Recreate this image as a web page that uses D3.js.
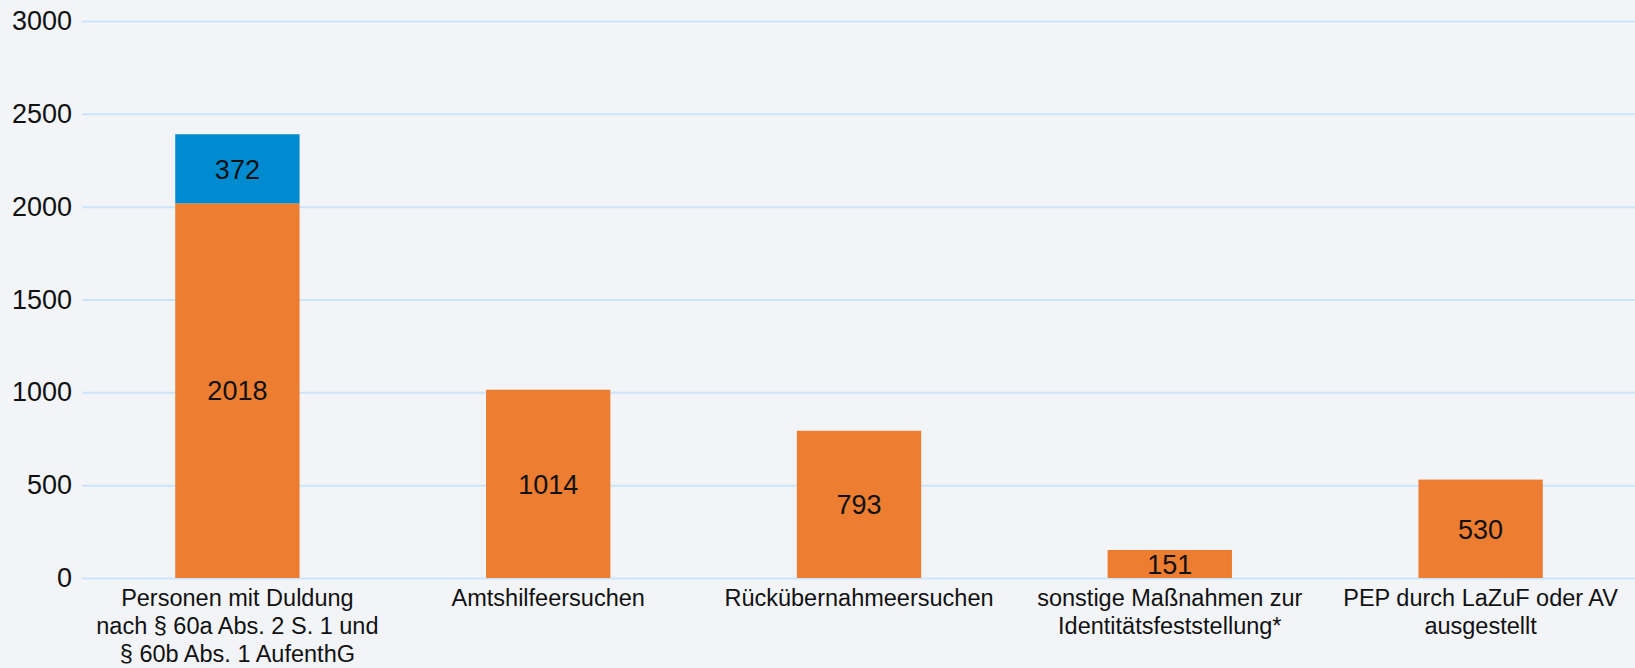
<!DOCTYPE html>
<html>
<head>
<meta charset="utf-8">
<script src="https://cdn.jsdelivr.net/npm/d3@7"></script>
<style>
  body { margin: 0; background: #f2f4f8; }
  svg { display: block; font-family: "Liberation Sans", Arial, sans-serif; }
</style>
</head>
<body>
<div id="chart"></div>
<script>
// data
var categories = [
    "Personen mit Duldung nach § 60a Abs. 2 S. 1 und § 60b Abs. 1 AufenthG",
    "Amtshilfeersuchen",
    "Rückübernahmeersuchen",
    "sonstige Maßnahmen zur Identitätsfeststellung*",
    "PEP durch LaZuF oder AV ausgestellt"
];
var labelLines = [
    ["Personen mit Duldung", "nach § 60a Abs. 2 S. 1 und", "§ 60b Abs. 1 AufenthG"],
    ["Amtshilfeersuchen"],
    ["Rückübernahmeersuchen"],
    ["sonstige Maßnahmen zur", "Identitätsfeststellung*"],
    ["PEP durch LaZuF oder AV", "ausgestellt"]
];
var orangeValues = [2018, 1014, 793, 151, 530];
var blueValues = [372, 0, 0, 0, 0];
var yTicks = [0, 500, 1000, 1500, 2000, 2500, 3000];

// setup
var width = 1635,
    height = 668;

var svg = d3.select("#chart").append("svg")
    .attr("width", width)
    .attr("height", height);

svg.append("rect")
    .attr("width", width)
    .attr("height", height)
    .attr("fill", "#f2f4f8");

var yScale = d3.scaleLinear()
    .domain([0, 3000])
    .range([578, 21]);

var xScale = d3.scaleBand()
    .domain(categories)
    .range([82, 1636])
    .paddingInner(0.6)
    .paddingOuter(0.3);

// grid + y axis
var yAxis = svg.append("g")
    .attr("transform", "translate(82,0)")
    .call(d3.axisLeft(yScale).tickValues(yTicks).tickFormat(d3.format("d"))
        .tickSize(0).tickPadding(10));
yAxis.select(".domain").remove();
yAxis.selectAll(".tick text")
    .attr("font-size", 27)
    .attr("font-family", "Liberation Sans, Arial, sans-serif")
    .attr("fill", "#111");
yAxis.selectAll(".tick line")
    .attr("x2", 1636 - 82)
    .attr("stroke", "#cbe3fb")
    .attr("stroke-width", 2);

// bars
var orangeBars = svg.append("g");
orangeBars.selectAll("rect")
    .data(orangeValues)
    .enter().append("rect")
    .attr("x", function (d, i) { return xScale(categories[i]); })
    .attr("width", xScale.bandwidth())
    .attr("y", function (d) { return yScale(d); })
    .attr("height", function (d) { return yScale(0) - yScale(d); })
    .attr("fill", "#ed7d31");

var blueBars = svg.append("g");
blueBars.selectAll("rect")
    .data(blueValues)
    .enter().filter(function (d) { return d > 0; }).append("rect")
    .attr("x", function (d, i) { return xScale(categories[i]); })
    .attr("width", xScale.bandwidth())
    .attr("y", function (d, i) { return yScale(orangeValues[i] + d); })
    .attr("height", function (d, i) { return yScale(orangeValues[i]) - yScale(orangeValues[i] + d); })
    .attr("fill", "#008bd0");

// value labels
var labels = svg.append("g")
    .attr("font-size", 27)
    .attr("text-anchor", "middle")
    .attr("fill", "#111");

orangeValues.forEach(function (d, i) {
    labels.append("text")
        .attr("x", xScale(categories[i]) + xScale.bandwidth() / 2)
        .attr("y", (yScale(0) + yScale(d)) / 2)
        .attr("dy", "0.36em")
        .text(d);
    if (blueValues[i] > 0) {
        labels.append("text")
            .attr("x", xScale(categories[i]) + xScale.bandwidth() / 2)
            .attr("y", (yScale(d) + yScale(d + blueValues[i])) / 2)
            .attr("dy", "0.36em")
            .text(blueValues[i]);
    }
});

// category labels
var xLabels = svg.append("g")
    .attr("font-size", 23.5)
    .attr("text-anchor", "middle")
    .attr("fill", "#111");

labelLines.forEach(function (lines, i) {
    var t = xLabels.append("text")
        .attr("x", xScale(categories[i]) + xScale.bandwidth() / 2)
        .attr("y", 606);
    lines.forEach(function (line, j) {
        t.append("tspan")
            .attr("x", xScale(categories[i]) + xScale.bandwidth() / 2)
            .attr("dy", j === 0 ? 0 : 28)
            .text(line);
    });
});
</script>
</body>
</html>
